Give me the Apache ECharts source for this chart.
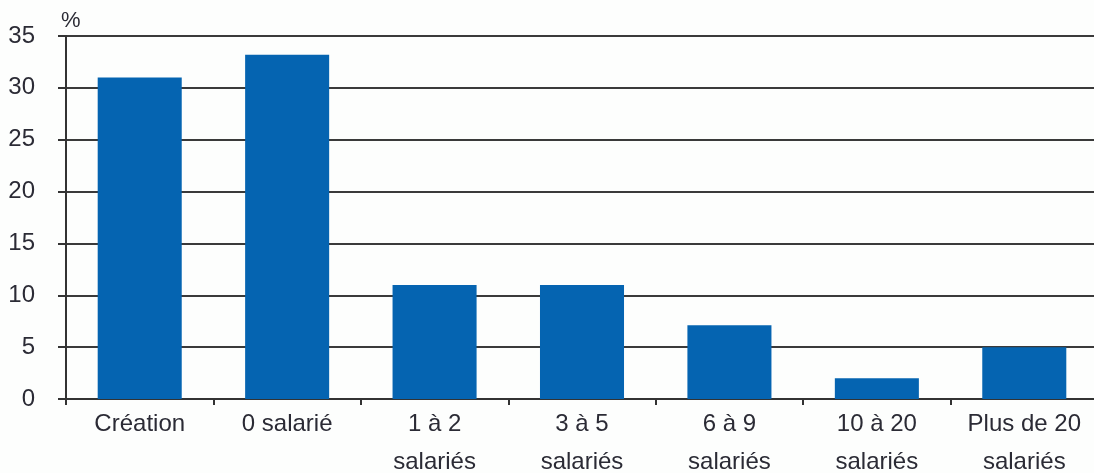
<!DOCTYPE html>
<html>
<head>
<meta charset="utf-8">
<script src="https://cdn.jsdelivr.net/npm/echarts@6/dist/echarts.min.js"></script>
<style>
  html, body { margin: 0; padding: 0; background: #fdfefd; }
  #main { width: 1094px; height: 473px; }
</style>
</head>
<body>
<div id="main"></div>
<script>
  // données
  var categories = ['Création', '0 salarié', '1 à 2\nsalariés', '3 à 5\nsalariés', '6 à 9\nsalariés', '10 à 20\nsalariés', 'Plus de 20\nsalariés']
  var values = [31, 33.2, 11, 11, 7.1, 2, 5]
  var yTicks = [0, 5, 10, 15, 20, 25, 30, 35]

  var font = '"Liberation Sans Narrow", "Liberation Sans", Arial, sans-serif'
  var myChart = echarts.init(document.getElementById('main'))

  myChart.setOption({
    animation: false,
    grid: { left: 66, right: -4, top: 36, bottom: 74, outerBoundsMode: 'none' },
    xAxis: {
      type: 'category',
      data: categories,
      axisLine: { lineStyle: { color: '#333', width: 2 } },
      axisTick: { show: true, length: 6, lineStyle: { color: '#333', width: 2 } },
      axisLabel: {
        color: '#2b2b35',
        fontFamily: font,
        fontSize: 24,
        lineHeight: 38,
        margin: 6,
        interval: 0
      }
    },
    yAxis: {
      type: 'value',
      min: yTicks[0],
      max: yTicks[yTicks.length - 1],
      interval: 5,
      name: '%',
      nameGap: 4,
      nameTextStyle: { color: '#2b2b35', fontFamily: font, fontSize: 22, align: 'left', padding: [0, 0, 0, -5] },
      axisLine: { show: true, lineStyle: { color: '#333', width: 2 } },
      axisTick: { show: true, length: 8, lineStyle: { color: '#333', width: 2 } },
      axisLabel: { color: '#2b2b35', fontFamily: font, fontSize: 24, margin: 31 },
      splitLine: { lineStyle: { color: '#3a3a3a', width: 2 } }
    },
    series: [
      {
        type: 'bar',
        data: values,
        barWidth: '57%',
        itemStyle: { color: '#0564b1' }
      }
    ]
  })
</script>
</body>
</html>
